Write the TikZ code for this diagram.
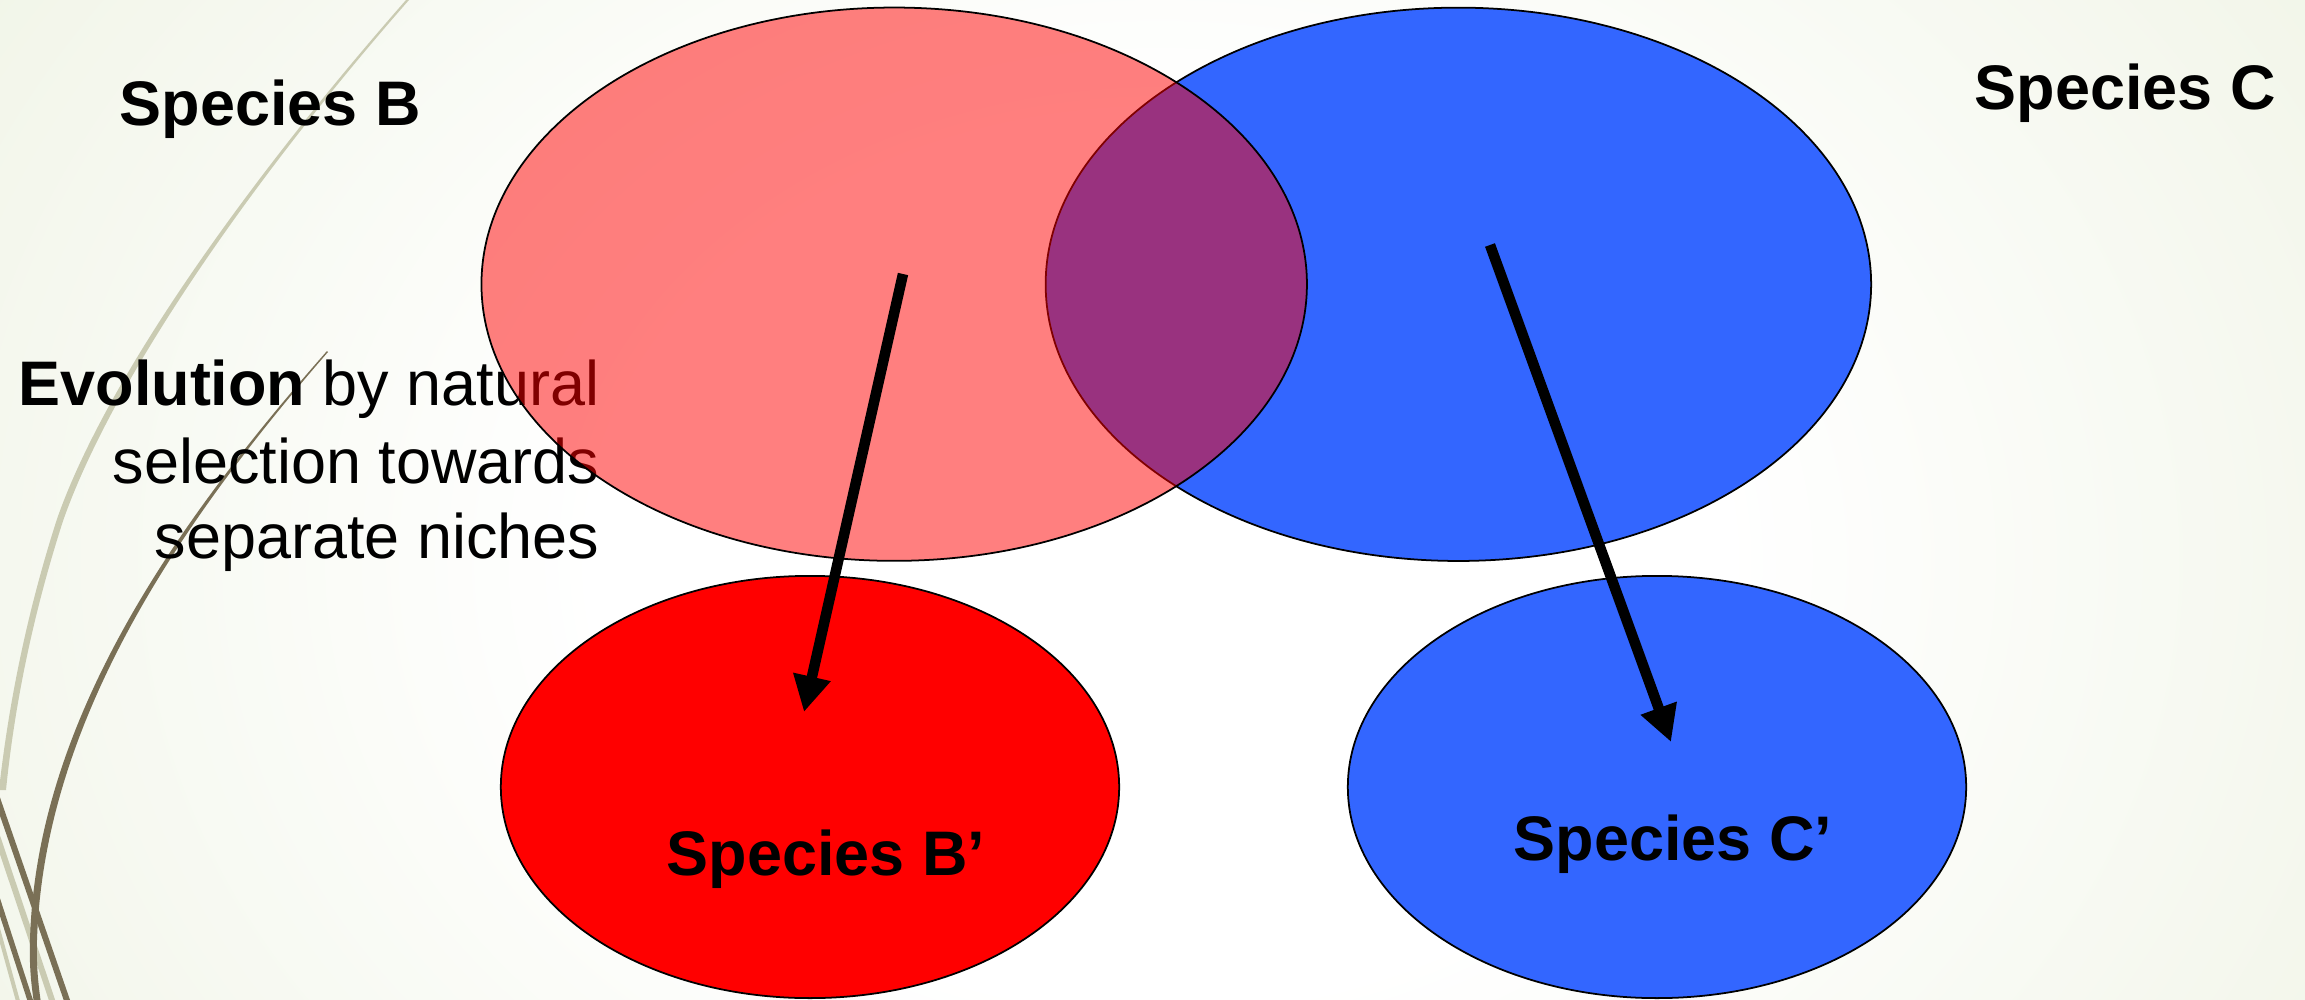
\documentclass[tikz,border=0pt]{standalone}
\usepackage{fontspec}
\setmainfont{Liberation Sans}
\usetikzlibrary{shapes.geometric,arrows.meta}
\definecolor{bgout}{RGB}{222,231,200}
\definecolor{sblue}{RGB}{51,102,255}
\definecolor{wispdark}{RGB}{122,112,86}
\definecolor{wisplight}{RGB}{202,203,178}
\pgfdeclareradialshading{bgshade}{\pgfpoint{0bp}{0bp}}{color(0bp)=(white); color(10bp)=(white); color(46bp)=(bgout); color(100bp)=(bgout)}
\begin{document}
\begin{tikzpicture}[x=0.01cm,y=-0.01cm,
  ell/.style={ellipse, draw=black, line width=0.5pt, inner sep=0pt, outer sep=0pt},
  bigell/.style={ell, minimum width=8.25cm, minimum height=5.53cm},
  smallell/.style={ell, minimum width=6.18cm, minimum height=4.22cm},
  lbl/.style={inner sep=0pt, font=\fontsize{17.9pt}{21.5pt}\selectfont},
  blbl/.style={inner sep=0pt, font=\fontsize{17.9pt}{21.5pt}\selectfont\bfseries},
  evoarrow/.style={line width=1.05mm, -{Triangle[length=3.6mm,width=3.6mm]}},
]
\useasboundingbox (0,0) rectangle (2305,1000);
% background
\fill[bgout] (0,0) rectangle (2305,1000);
\begin{scope}
\clip (0,0) rectangle (2305,1000);
\shade[shading=bgshade] (1160,560) ellipse [x radius=14cm, y radius=11cm];
% decorative curves
\fill[wisplight] (409,0) .. controls (251,180) and (112,381) .. (63,521) .. controls (34,611) and (15,701) .. (6,790) -- (-1,790) .. controls (9,700) and (28,609) .. (57,519) .. controls (106,379) and (248,180) .. (406,0) -- cycle;
\draw[wisplight, line width=0.06cm] (-3,836) -- (56,1012);
\draw[wisplight, line width=0.04cm] (-3,925) -- (21,1012);
\draw[wispdark, line width=0.06cm] (-3,798) -- (71,1012);
\draw[wispdark, line width=0.055cm] (-3,898) -- (34,1012);
\fill[wispdark] (327,351) .. controls (178,520) and (36,720) .. (30,940) .. controls (29,970) and (32,990) .. (35,1010) -- (42,1010) .. controls (39,990) and (36,968) .. (37,940) .. controls (44,720) and (182,520) .. (328,352) -- cycle;
\end{scope}
% texts
\node[blbl, anchor=base west] (tB) at (119,125) {Species B};
\node[blbl, anchor=base west] (tC) at (1974,110) {Species C};
\node[lbl, anchor=base east] (evo1) at (600,405) {\textbf{Evolution} by natural};
\node[lbl, anchor=base east] (evo2) at (600,483) {selection towards};
\node[lbl, anchor=base east] (evo3) at (600,558) {separate niches};
% ellipses
\node[bigell, fill=sblue] (C) at (1458.4,284.3) {};
\node[bigell, fill=red, fill opacity=0.5] (B) at (894.2,284.2) {};
\node[smallell, fill=red] (B2) at (810,787) {};
\node[smallell, fill=sblue] (C2) at (1657,787) {};
\node[blbl, anchor=base west] (tB2) at (666,875) {Species B’};
\node[blbl, anchor=base west] (tC2) at (1513,860) {Species C’};
% arrows
\coordinate (bstart) at (903,274);
\coordinate (bend) at (804,712);
\coordinate (cstart) at (1490,245);
\coordinate (cend) at (1671,742);
\draw[evoarrow] (bstart) -- (bend);
\draw[evoarrow] (cstart) -- (cend);
\end{tikzpicture}
\end{document}
